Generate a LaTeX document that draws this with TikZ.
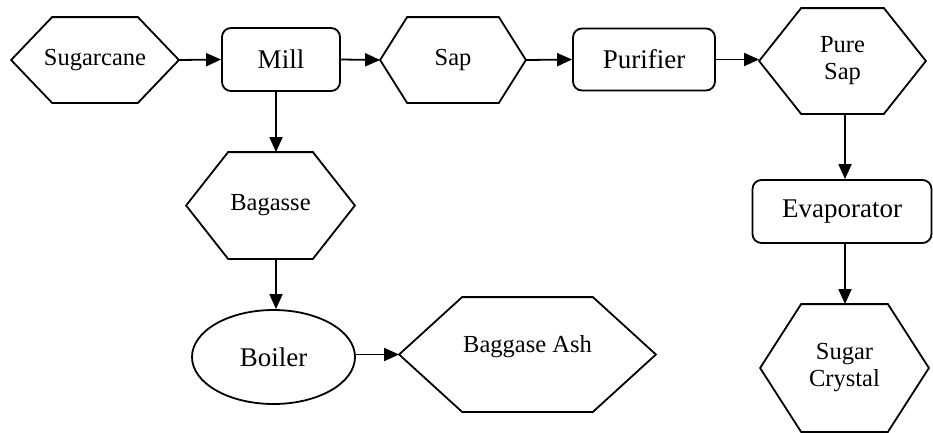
\documentclass[tikz,border=0pt]{standalone}
\usepackage{fontspec}
\setmainfont{Liberation Serif}
\newfontfamily\diagfont{Liberation Serif}
\usetikzlibrary{arrows.meta,shapes.geometric}
\newcommand{\hexdraw}[2]{\draw (#1.west) -- ([xshift=#2pt]#1.north west) -- ([xshift=-#2pt]#1.north east) -- (#1.east) -- ([xshift=-#2pt]#1.south east) -- ([xshift=#2pt]#1.south west) -- cycle;}
\begin{document}
\begin{tikzpicture}[x=1pt,y=-1pt,line width=1.8pt,
  hexbox/.style={draw=none,inner sep=0pt,align=center,font=\diagfont\fontsize{24.5}{27}\selectfont},
  procbox/.style={draw,rounded corners=9pt,inner sep=0pt,align=center,font=\diagfont\fontsize{27}{30}\selectfont},
  ellbox/.style={draw,ellipse,inner sep=0pt,font=\diagfont\fontsize{27}{30}\selectfont},
  arr/.style={-{Triangle[length=15pt,width=13pt]}}]
\path[use as bounding box] (0,0) rectangle (933,432);
% nodes
\node[hexbox,minimum width=166pt,minimum height=84pt] (sugarcane) at (95,60) {\raisebox{4pt}{Sugarcane}};
\node[procbox,minimum width=118pt,minimum height=63pt] (mill) at (281,59.5) {Mill};
\node[hexbox,minimum width=144pt,minimum height=84pt] (sap) at (453,60) {Sap};
\node[procbox,minimum width=142pt,minimum height=62pt] (purifier) at (644,59.5) {Purifier};
\node[hexbox,minimum width=165pt,minimum height=104pt] (puresap) at (842.5,61) {\raisebox{-18pt}{\begin{tabular}{@{}c@{}}Pure\\Sap\end{tabular}}};
\node[procbox,minimum width=179pt,minimum height=63pt] (evap) at (842,211.5) {Evaporator};
\node[hexbox,minimum width=167pt,minimum height=126pt] (crystal) at (844.5,368) {\begin{tabular}{@{}c@{}}Sugar\\Crystal\end{tabular}};
\node[hexbox,minimum width=167pt,minimum height=105pt] (bagasse) at (270.5,205.5) {Bagasse};
\node[ellbox,minimum width=163pt,minimum height=94pt] (boiler) at (273.5,357) {Boiler};
\node[hexbox,minimum width=255pt,minimum height=113pt] (ash) at (527.5,354.5) {\raisebox{22pt}{Baggase Ash}};
% hexagon outlines
\hexdraw{sugarcane}{41}
\hexdraw{sap}{27}
\hexdraw{puresap}{42}
\hexdraw{crystal}{41}
\hexdraw{bagasse}{42}
\hexdraw{ash}{63}
% column guides
\coordinate (colA) at (276,0);
\coordinate (colB) at (845,0);
% connectors
\draw[arr] (sugarcane.east) -- (mill.west);
\draw[arr] (mill.east) -- (sap.west);
\draw[arr] (sap.east) -- (purifier.west);
\draw[arr] (purifier.east) -- (purifier.east -| puresap.west);
\draw[arr] (puresap.south -| colB) -- (evap.north -| colB);
\draw[arr] (evap.south -| colB) -- (crystal.north -| colB);
\draw[arr] (mill.south -| colA) -- (bagasse.north -| colA);
\draw[arr] (bagasse.south -| colA) -- (boiler.north -| colA);
\draw[arr] (boiler.east |- ash.west) -- (ash.west);
\end{tikzpicture}
\end{document}
